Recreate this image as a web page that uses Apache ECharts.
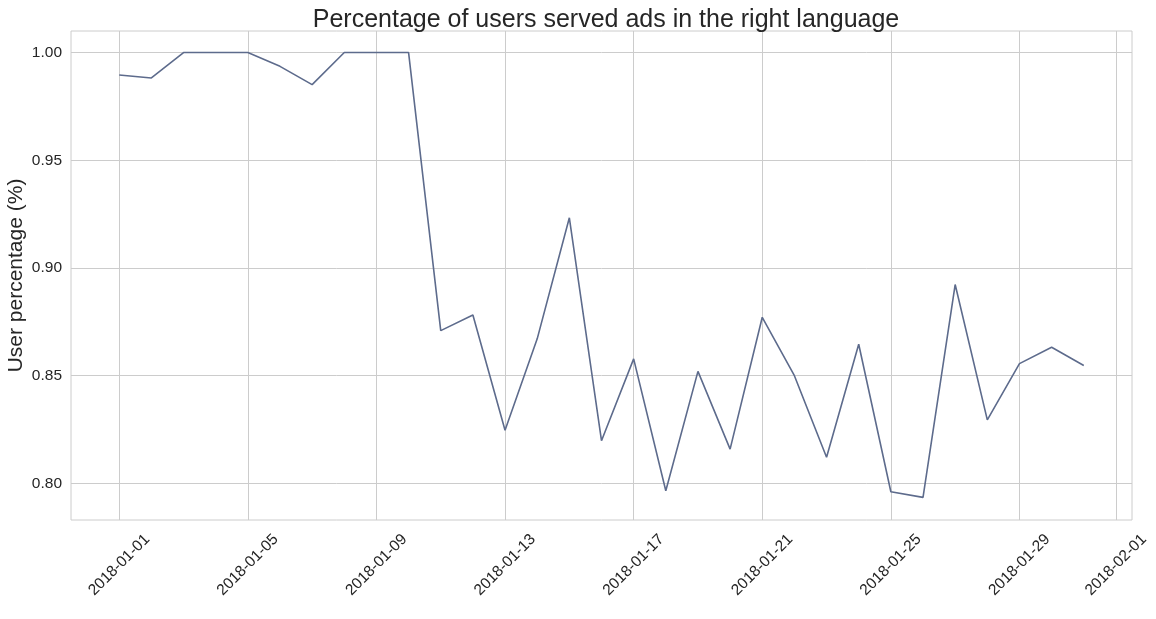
<!DOCTYPE html>
<html>
<head>
<meta charset="utf-8">
<script src="https://cdn.jsdelivr.net/npm/echarts@6/dist/echarts.min.js"></script>
<style>
  html, body { margin: 0; padding: 0; background: #ffffff; }
  #chart { width: 1156px; height: 619px; }
</style>
</head>
<body>
<div id="chart"></div>
<script>
// Data
const dates = [
  '2018-01-01','2018-01-02','2018-01-03','2018-01-04','2018-01-05','2018-01-06','2018-01-07',
  '2018-01-08','2018-01-09','2018-01-10','2018-01-11','2018-01-12','2018-01-13','2018-01-14',
  '2018-01-15','2018-01-16','2018-01-17','2018-01-18','2018-01-19','2018-01-20','2018-01-21',
  '2018-01-22','2018-01-23','2018-01-24','2018-01-25','2018-01-26','2018-01-27','2018-01-28',
  '2018-01-29','2018-01-30','2018-01-31'
];
const userPct = [
  0.9896, 0.9882, 1.0000, 1.0000, 1.0000, 0.9936, 0.9851,
  1.0000, 1.0000, 1.0000, 0.8709, 0.8782, 0.8247, 0.8671,
  0.9233, 0.8198, 0.8578, 0.7966, 0.8520, 0.8159, 0.8771,
  0.8500, 0.8121, 0.8646, 0.7961, 0.7935, 0.8923, 0.8295,
  0.8556, 0.8632, 0.8547
];
const xTicks = [
  '2018-01-01','2018-01-05','2018-01-09','2018-01-13','2018-01-17',
  '2018-01-21','2018-01-25','2018-01-29','2018-02-01'
];
const yTicks = [0.80, 0.85, 0.90, 0.95, 1.00];
const titleText = 'Percentage of users served ads in the right language';
const yName = 'User percentage (%)';

// Day offsets (UTC) from the first date, so the x scale is linear in days
const DAY = 86400000;
const origin = Date.UTC(2018, 0, 1);
function dayOf(s) {
  const p = s.split('-').map(Number);
  return (Date.UTC(p[0], p[1] - 1, p[2]) - origin) / DAY;
}
function labelOf(v) {
  const d = new Date(origin + Math.round(v) * DAY);
  const mm = String(d.getUTCMonth() + 1).padStart(2, '0');
  const dd = String(d.getUTCDate()).padStart(2, '0');
  return d.getUTCFullYear() + '-' + mm + '-' + dd;
}
const xTickDays = xTicks.map(dayOf);

const FONT = '"Liberation Sans", Arial, "DejaVu Sans", sans-serif';
const TXT = '#262626';
const GRID = '#cccccc';

const chart = echarts.init(document.getElementById('chart'), null, { renderer: 'canvas' });
chart.setOption({
  backgroundColor: '#ffffff',
  animation: false,
  title: {
    text: titleText,
    left: 601,
    top: 3,
    textAlign: 'center',
    textStyle: { fontFamily: FONT, fontSize: 25, fontWeight: 'normal', color: TXT }
  },
  grid: {
    left: 71, right: 24, top: 31, bottom: 99,
    containLabel: false,
    outerBoundsMode: 'none',
    show: true, borderColor: GRID, borderWidth: 1, backgroundColor: '#ffffff'
  },
  xAxis: {
    type: 'value',
    min: -1.5,
    max: 31.5,
    axisLine: { show: false },
    axisTick: { show: false, customValues: xTickDays },
    splitLine: { show: true, lineStyle: { color: GRID, width: 1 } },
    axisLabel: {
      customValues: xTickDays,
      rotate: 45,
      align: 'center',
      verticalAlign: 'middle',
      margin: 45,
      fontFamily: FONT,
      fontSize: 15.5,
      color: TXT,
      formatter: function (v) { return labelOf(v); }
    }
  },
  yAxis: {
    type: 'value',
    min: 0.783,
    max: 1.010,
    name: yName,
    nameLocation: 'middle',
    nameRotate: 90,
    nameGap: 44,
    nameMoveOverlap: false,
    nameTextStyle: { fontFamily: FONT, fontSize: 21, color: TXT },
    axisLine: { show: false },
    axisTick: { show: false, customValues: yTicks },
    splitLine: { show: true, lineStyle: { color: GRID, width: 1 } },
    axisLabel: {
      customValues: yTicks,
      margin: 9,
      fontFamily: FONT,
      fontSize: 15.5,
      color: TXT,
      formatter: function (v) { return v.toFixed(2); }
    }
  },
  series: [{
    type: 'line',
    data: dates.map(function (d, i) { return [dayOf(d), userPct[i]]; }),
    showSymbol: false,
    symbol: 'none',
    lineStyle: { color: '#5d6b8c', width: 1.6 },
    itemStyle: { color: '#5d6b8c' }
  }]
});
</script>
</body>
</html>
